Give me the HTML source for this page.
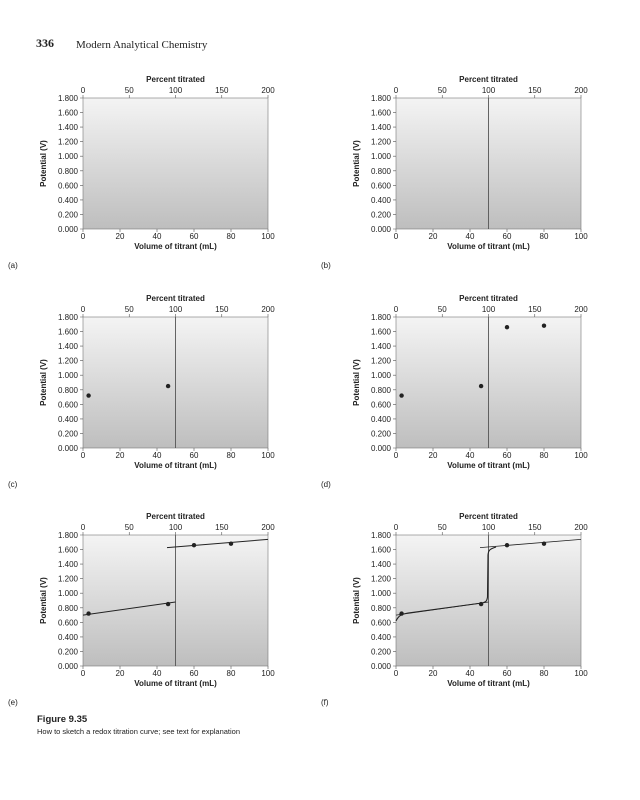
<!DOCTYPE html>
<html><head><meta charset="utf-8"><style>
body{margin:0;background:#fff;width:640px;height:800px;overflow:hidden}
svg{display:block}
text{font-family:"Liberation Sans",Arial,sans-serif;fill:#222}
.t{font-size:8px}
.b{font-size:8px;font-weight:bold}
.s{font-family:"Liberation Serif",serif}
</style></head><body>
<svg width="640" height="800" viewBox="0 0 640 800">
<defs>
<linearGradient id="g" x1="0" y1="0" x2="0" y2="1">
<stop offset="0" stop-color="#f4f4f4"/><stop offset="1" stop-color="#bebebe"/>
</linearGradient>
</defs>
<text x="36" y="47" class="s" style="font-size:12px;font-weight:bold">336</text>
<text x="76" y="48" class="s" style="font-size:11px">Modern Analytical Chemistry</text>

<!-- panel a -->
<g transform="translate(83,98)">
<rect width="185" height="131" fill="url(#g)" stroke="#777" stroke-width="0.6"/>
<g stroke="#555" stroke-width="0.6"><path d="M0,0h-3M0,14.6h-3M0,29.1h-3M0,43.7h-3M0,58.2h-3M0,72.8h-3M0,87.3h-3M0,101.9h-3M0,116.4h-3M0,131h-3M0,131v3M37,131v3M74,131v3M111,131v3M148,131v3M185,131v3M0,0v-3M46.25,0v-3M92.5,0v-3M138.75,0v-3M185,0v-3"/></g>
<g class="t" text-anchor="end"><text x="-5" y="3">1.800</text><text x="-5" y="17.6">1.600</text><text x="-5" y="32.1">1.400</text><text x="-5" y="46.7">1.200</text><text x="-5" y="61.2">1.000</text><text x="-5" y="75.8">0.800</text><text x="-5" y="90.3">0.600</text><text x="-5" y="104.9">0.400</text><text x="-5" y="119.4">0.200</text><text x="-5" y="134">0.000</text></g>
<g class="t" text-anchor="middle"><text x="0" y="141">0</text><text x="37" y="141">20</text><text x="74" y="141">40</text><text x="111" y="141">60</text><text x="148" y="141">80</text><text x="185" y="141">100</text><text x="0" y="-5">0</text><text x="46.25" y="-5">50</text><text x="92.5" y="-5">100</text><text x="138.75" y="-5">150</text><text x="185" y="-5">200</text></g>
<text class="b" x="92.5" y="151" text-anchor="middle">Volume of titrant (mL)</text>
<text class="b" x="92.5" y="-16" text-anchor="middle">Percent titrated</text>
<text class="b" transform="translate(-37,65.5) rotate(-90)" text-anchor="middle">Potential (V)</text>
<text class="t" x="-75" y="170">(a)</text>
</g>

<!-- panel b -->
<g transform="translate(396,98)">
<rect width="185" height="131" fill="url(#g)" stroke="#777" stroke-width="0.6"/>
<g stroke="#555" stroke-width="0.6"><path d="M0,0h-3M0,14.6h-3M0,29.1h-3M0,43.7h-3M0,58.2h-3M0,72.8h-3M0,87.3h-3M0,101.9h-3M0,116.4h-3M0,131h-3M0,131v3M37,131v3M74,131v3M111,131v3M148,131v3M185,131v3M0,0v-3M46.25,0v-3M92.5,0v-3M138.75,0v-3M185,0v-3"/></g>
<g class="t" text-anchor="end"><text x="-5" y="3">1.800</text><text x="-5" y="17.6">1.600</text><text x="-5" y="32.1">1.400</text><text x="-5" y="46.7">1.200</text><text x="-5" y="61.2">1.000</text><text x="-5" y="75.8">0.800</text><text x="-5" y="90.3">0.600</text><text x="-5" y="104.9">0.400</text><text x="-5" y="119.4">0.200</text><text x="-5" y="134">0.000</text></g>
<g class="t" text-anchor="middle"><text x="0" y="141">0</text><text x="37" y="141">20</text><text x="74" y="141">40</text><text x="111" y="141">60</text><text x="148" y="141">80</text><text x="185" y="141">100</text><text x="0" y="-5">0</text><text x="46.25" y="-5">50</text><text x="92.5" y="-5">100</text><text x="138.75" y="-5">150</text><text x="185" y="-5">200</text></g>
<text class="b" x="92.5" y="151" text-anchor="middle">Volume of titrant (mL)</text>
<text class="b" x="92.5" y="-16" text-anchor="middle">Percent titrated</text>
<text class="b" transform="translate(-37,65.5) rotate(-90)" text-anchor="middle">Potential (V)</text>
<text class="t" x="-75" y="170">(b)</text>
<path d="M92.5,0V131" stroke="#555" stroke-width="0.9"/>
</g>

<!-- panel c -->
<g transform="translate(83,317)">
<rect width="185" height="131" fill="url(#g)" stroke="#777" stroke-width="0.6"/>
<g stroke="#555" stroke-width="0.6"><path d="M0,0h-3M0,14.6h-3M0,29.1h-3M0,43.7h-3M0,58.2h-3M0,72.8h-3M0,87.3h-3M0,101.9h-3M0,116.4h-3M0,131h-3M0,131v3M37,131v3M74,131v3M111,131v3M148,131v3M185,131v3M0,0v-3M46.25,0v-3M92.5,0v-3M138.75,0v-3M185,0v-3"/></g>
<g class="t" text-anchor="end"><text x="-5" y="3">1.800</text><text x="-5" y="17.6">1.600</text><text x="-5" y="32.1">1.400</text><text x="-5" y="46.7">1.200</text><text x="-5" y="61.2">1.000</text><text x="-5" y="75.8">0.800</text><text x="-5" y="90.3">0.600</text><text x="-5" y="104.9">0.400</text><text x="-5" y="119.4">0.200</text><text x="-5" y="134">0.000</text></g>
<g class="t" text-anchor="middle"><text x="0" y="141">0</text><text x="37" y="141">20</text><text x="74" y="141">40</text><text x="111" y="141">60</text><text x="148" y="141">80</text><text x="185" y="141">100</text><text x="0" y="-5">0</text><text x="46.25" y="-5">50</text><text x="92.5" y="-5">100</text><text x="138.75" y="-5">150</text><text x="185" y="-5">200</text></g>
<text class="b" x="92.5" y="151" text-anchor="middle">Volume of titrant (mL)</text>
<text class="b" x="92.5" y="-16" text-anchor="middle">Percent titrated</text>
<text class="b" transform="translate(-37,65.5) rotate(-90)" text-anchor="middle">Potential (V)</text>
<text class="t" x="-75" y="170">(c)</text>
<path d="M92.5,0V131" stroke="#555" stroke-width="0.9"/>
<circle cx="5.6" cy="78.6" r="2.2" fill="#222"/><circle cx="85.1" cy="69.1" r="2.2" fill="#222"/>
</g>

<!-- panel d -->
<g transform="translate(396,317)">
<rect width="185" height="131" fill="url(#g)" stroke="#777" stroke-width="0.6"/>
<g stroke="#555" stroke-width="0.6"><path d="M0,0h-3M0,14.6h-3M0,29.1h-3M0,43.7h-3M0,58.2h-3M0,72.8h-3M0,87.3h-3M0,101.9h-3M0,116.4h-3M0,131h-3M0,131v3M37,131v3M74,131v3M111,131v3M148,131v3M185,131v3M0,0v-3M46.25,0v-3M92.5,0v-3M138.75,0v-3M185,0v-3"/></g>
<g class="t" text-anchor="end"><text x="-5" y="3">1.800</text><text x="-5" y="17.6">1.600</text><text x="-5" y="32.1">1.400</text><text x="-5" y="46.7">1.200</text><text x="-5" y="61.2">1.000</text><text x="-5" y="75.8">0.800</text><text x="-5" y="90.3">0.600</text><text x="-5" y="104.9">0.400</text><text x="-5" y="119.4">0.200</text><text x="-5" y="134">0.000</text></g>
<g class="t" text-anchor="middle"><text x="0" y="141">0</text><text x="37" y="141">20</text><text x="74" y="141">40</text><text x="111" y="141">60</text><text x="148" y="141">80</text><text x="185" y="141">100</text><text x="0" y="-5">0</text><text x="46.25" y="-5">50</text><text x="92.5" y="-5">100</text><text x="138.75" y="-5">150</text><text x="185" y="-5">200</text></g>
<text class="b" x="92.5" y="151" text-anchor="middle">Volume of titrant (mL)</text>
<text class="b" x="92.5" y="-16" text-anchor="middle">Percent titrated</text>
<text class="b" transform="translate(-37,65.5) rotate(-90)" text-anchor="middle">Potential (V)</text>
<text class="t" x="-75" y="170">(d)</text>
<path d="M92.5,0V131" stroke="#555" stroke-width="0.9"/>
<circle cx="5.6" cy="78.6" r="2.2" fill="#222"/><circle cx="85.1" cy="69.1" r="2.2" fill="#222"/>
<circle cx="111" cy="10.2" r="2.2" fill="#222"/><circle cx="148" cy="8.7" r="2.2" fill="#222"/>
</g>

<!-- panel e -->
<g transform="translate(83,535)">
<rect width="185" height="131" fill="url(#g)" stroke="#777" stroke-width="0.6"/>
<g stroke="#555" stroke-width="0.6"><path d="M0,0h-3M0,14.6h-3M0,29.1h-3M0,43.7h-3M0,58.2h-3M0,72.8h-3M0,87.3h-3M0,101.9h-3M0,116.4h-3M0,131h-3M0,131v3M37,131v3M74,131v3M111,131v3M148,131v3M185,131v3M0,0v-3M46.25,0v-3M92.5,0v-3M138.75,0v-3M185,0v-3"/></g>
<g class="t" text-anchor="end"><text x="-5" y="3">1.800</text><text x="-5" y="17.6">1.600</text><text x="-5" y="32.1">1.400</text><text x="-5" y="46.7">1.200</text><text x="-5" y="61.2">1.000</text><text x="-5" y="75.8">0.800</text><text x="-5" y="90.3">0.600</text><text x="-5" y="104.9">0.400</text><text x="-5" y="119.4">0.200</text><text x="-5" y="134">0.000</text></g>
<g class="t" text-anchor="middle"><text x="0" y="141">0</text><text x="37" y="141">20</text><text x="74" y="141">40</text><text x="111" y="141">60</text><text x="148" y="141">80</text><text x="185" y="141">100</text><text x="0" y="-5">0</text><text x="46.25" y="-5">50</text><text x="92.5" y="-5">100</text><text x="138.75" y="-5">150</text><text x="185" y="-5">200</text></g>
<text class="b" x="92.5" y="151" text-anchor="middle">Volume of titrant (mL)</text>
<text class="b" x="92.5" y="-16" text-anchor="middle">Percent titrated</text>
<text class="b" transform="translate(-37,65.5) rotate(-90)" text-anchor="middle">Potential (V)</text>
<text class="t" x="-75" y="170">(e)</text>
<path d="M92.5,0V131" stroke="#555" stroke-width="0.9"/>
<path d="M0,80.1L92.5,67M84,12.6L185,4.4" stroke="#222" stroke-width="1" fill="none"/>
<circle cx="5.6" cy="78.6" r="2.2" fill="#222"/><circle cx="85.1" cy="69.1" r="2.2" fill="#222"/>
<circle cx="111" cy="10.2" r="2.2" fill="#222"/><circle cx="148" cy="8.7" r="2.2" fill="#222"/>
</g>

<!-- panel f -->
<g transform="translate(396,535)">
<rect width="185" height="131" fill="url(#g)" stroke="#777" stroke-width="0.6"/>
<g stroke="#555" stroke-width="0.6"><path d="M0,0h-3M0,14.6h-3M0,29.1h-3M0,43.7h-3M0,58.2h-3M0,72.8h-3M0,87.3h-3M0,101.9h-3M0,116.4h-3M0,131h-3M0,131v3M37,131v3M74,131v3M111,131v3M148,131v3M185,131v3M0,0v-3M46.25,0v-3M92.5,0v-3M138.75,0v-3M185,0v-3"/></g>
<g class="t" text-anchor="end"><text x="-5" y="3">1.800</text><text x="-5" y="17.6">1.600</text><text x="-5" y="32.1">1.400</text><text x="-5" y="46.7">1.200</text><text x="-5" y="61.2">1.000</text><text x="-5" y="75.8">0.800</text><text x="-5" y="90.3">0.600</text><text x="-5" y="104.9">0.400</text><text x="-5" y="119.4">0.200</text><text x="-5" y="134">0.000</text></g>
<g class="t" text-anchor="middle"><text x="0" y="141">0</text><text x="37" y="141">20</text><text x="74" y="141">40</text><text x="111" y="141">60</text><text x="148" y="141">80</text><text x="185" y="141">100</text><text x="0" y="-5">0</text><text x="46.25" y="-5">50</text><text x="92.5" y="-5">100</text><text x="138.75" y="-5">150</text><text x="185" y="-5">200</text></g>
<text class="b" x="92.5" y="151" text-anchor="middle">Volume of titrant (mL)</text>
<text class="b" x="92.5" y="-16" text-anchor="middle">Percent titrated</text>
<text class="b" transform="translate(-37,65.5) rotate(-90)" text-anchor="middle">Potential (V)</text>
<text class="t" x="-75" y="170">(f)</text>
<path d="M92.5,0V131" stroke="#555" stroke-width="0.9"/>
<path d="M0,80.1L92.5,67M84,12.6L185,4.4" stroke="#222" stroke-width="0.8" fill="none"/>
<path d="M0,85.9C3,80 6,79 12,78 L86,68 C90,67 91,66 91.5,62 L92,20 C92.3,15 94,14 100,12" stroke="#222" stroke-width="1.1" fill="none"/>
<circle cx="5.6" cy="78.6" r="2.2" fill="#222"/><circle cx="85.1" cy="69.1" r="2.2" fill="#222"/>
<circle cx="111" cy="10.2" r="2.2" fill="#222"/><circle cx="148" cy="8.7" r="2.2" fill="#222"/>
</g>

<text x="37" y="722" style="font-size:9.5px;font-weight:bold">Figure 9.35</text>
<text x="37" y="734" style="font-size:7.5px">How to sketch a redox titration curve; see text for explanation</text>
</svg>
</body></html>
